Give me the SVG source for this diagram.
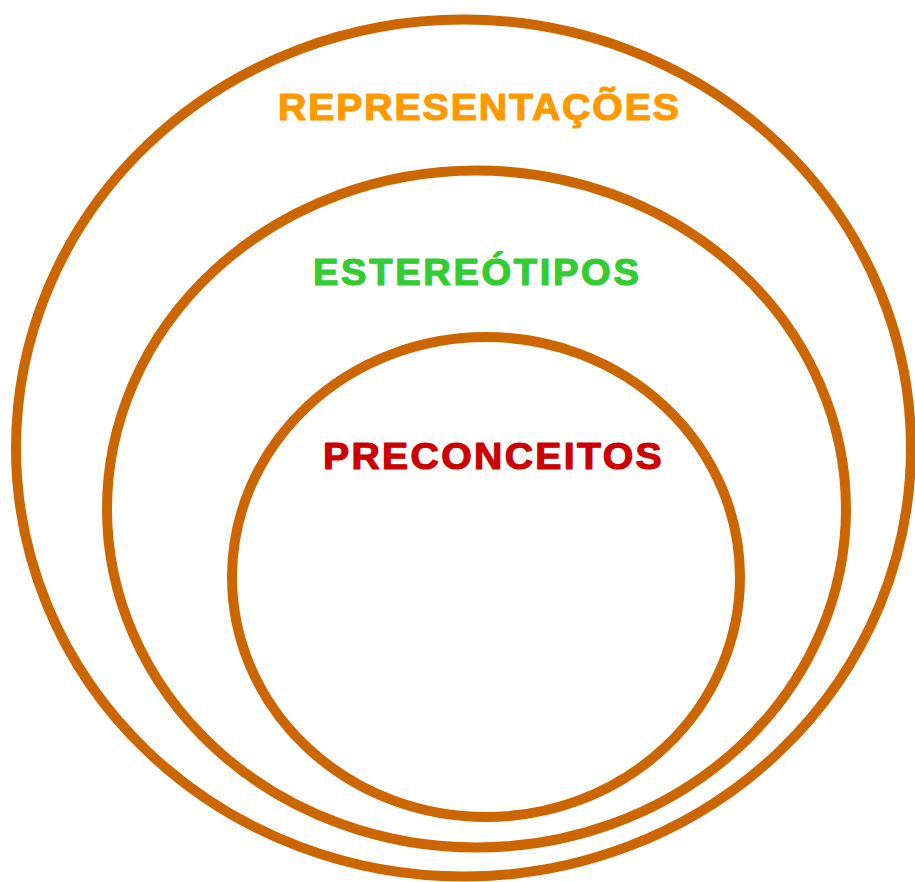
<svg xmlns="http://www.w3.org/2000/svg" width="915" height="882" viewBox="0 0 915 882">
<style>
.ring{fill:none;stroke:#cc6600;stroke-width:10}
.lbl{font-family:"Liberation Sans",Arial,sans-serif;font-weight:bold;stroke-width:1.2;stroke-linejoin:round}
</style>
<rect width="915" height="882" fill="#ffffff"/>
<g id="representacoes">
<ellipse class="ring" cx="463.5" cy="448" rx="447.5" ry="428.5"/>
<text class="lbl" transform="translate(278 120) scale(1.06 1)" font-size="37" letter-spacing="1.8" fill="#ff9900" stroke="#ff9900">REPRESENTAÇÕES</text>
</g>
<g id="estereotipos">
<ellipse class="ring" cx="476.5" cy="509" rx="369.5" ry="338.5"/>
<text class="lbl" transform="translate(313 285) scale(1.06 1)" font-size="36" letter-spacing="2.5" fill="#33cc33" stroke="#33cc33">ESTEREÓTIPOS</text>
</g>
<g id="preconceitos">
<ellipse class="ring" cx="486" cy="577" rx="254" ry="240"/>
<text class="lbl" transform="translate(323 469) scale(1.06 1)" font-size="37" letter-spacing="2.2" fill="#cc0000" stroke="#cc0000">PRECONCEITOS</text>
</g>
</svg>
